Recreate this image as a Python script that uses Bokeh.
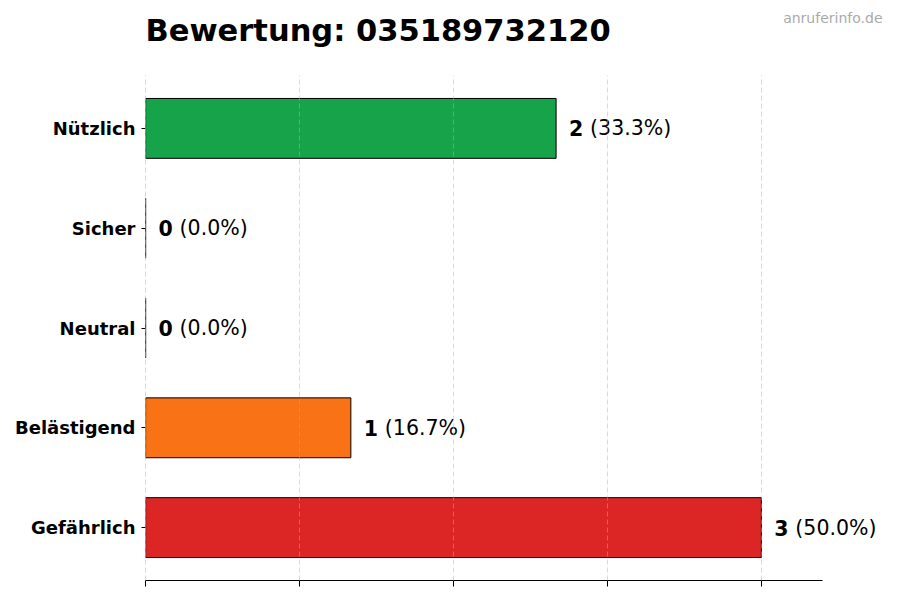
from bokeh.plotting import figure
from bokeh.layouts import column
from bokeh.models import ColumnDataSource, FixedTicker, Range1d
from bokeh.core.properties import value
from bokeh.embed import file_html
from bokeh.resources import INLINE

categories = ["Nützlich", "Sicher", "Neutral", "Belästigend", "Gefährlich"]
counts = [2, 0, 0, 1, 3]
colors = ["#16a34a", "#9ca3af", "#6b7280", "#f97316", "#dc2626"]
x_ticks = [0, 0.75, 1.5, 2.25, 3.0]
title_text = "Bewertung: 035189732120"
watermark = "anruferinfo.de"

total = sum(counts)
ypos = [len(categories) - 1 - i for i in range(len(categories))]
pct = ["(%.1f%%)" % (c / total * 100) for c in counts]

FONT = "DejaVu Sans"
W = 884
HEAD_H = 75
LEFT = 145

# ---- header (title + watermark), pixel-space frame aligned with the chart frame ----
head = figure(width=W, height=HEAD_H, output_backend="svg", toolbar_location=None,
              x_range=Range1d(LEFT, W), y_range=Range1d(HEAD_H, 0),
              x_axis_type=None, y_axis_type=None, min_border=0, min_border_left=LEFT)
head.outline_line_color = None
head.grid.visible = False
head.text(x=[LEFT], y=[30], text=[title_text], text_font=value(FONT),
          text_font_style="bold", text_font_size="30.5px", text_color="black",
          text_baseline="middle", text_align="left")
head.text(x=[882], y=[17], text=[watermark], text_font=value(FONT),
          text_font_size="14px", text_color="#aaaaaa",
          text_baseline="middle", text_align="right")

# ---- main chart ----
src = ColumnDataSource(dict(y=ypos, v=counts, c=colors, n=[str(c) for c in counts], p=pct))

p = figure(width=W, height=512, output_backend="svg", toolbar_location=None,
           x_range=Range1d(-0.0005, 3.6), y_range=Range1d(-0.53, 4.53),
           min_border_left=LEFT, min_border_right=0, min_border_top=0, min_border_bottom=7)
p.outline_line_color = None
p.background_fill_color = "white"

p.hbar(y="y", left=0, right="v", height=0.6, fill_color="c", line_color="black",
       line_width=1, source=src)

p.text(x="v", y="y", text="n", x_offset=13, text_baseline="middle", text_align="left",
       text_font=value(FONT), text_font_style="bold", text_font_size="20.5px",
       text_color="black", source=src)
p.text(x="v", y="y", text="p", x_offset=34, text_baseline="middle", text_align="left",
       text_font=value(FONT), text_font_size="20.5px", text_color="black", source=src)

# x axis
p.xaxis.ticker = FixedTicker(ticks=x_ticks)
p.xaxis.bounds = (0, 3.3)
p.xaxis.major_label_text_font_size = "0px"
p.xaxis.major_label_standoff = 0
p.xaxis.major_tick_out = 6
p.xaxis.major_tick_in = 0
p.xaxis.minor_tick_line_color = None
p.xaxis.axis_line_color = "black"
p.xaxis.major_tick_line_color = "black"

# y axis
p.yaxis.ticker = FixedTicker(ticks=ypos)
p.yaxis.major_label_overrides = {y: c for y, c in zip(ypos, categories)}
p.yaxis.major_label_text_font = FONT
p.yaxis.major_label_text_font_style = "bold"
p.yaxis.major_label_text_font_size = "18px"
p.yaxis.major_label_text_color = "black"
p.yaxis.major_label_standoff = 6
p.yaxis.axis_line_color = None
p.yaxis.major_tick_out = 4
p.yaxis.major_tick_in = 0
p.yaxis.minor_tick_line_color = None

# grid
p.ygrid.grid_line_color = None
p.xgrid.ticker = FixedTicker(ticks=x_ticks)
p.xgrid.grid_line_color = "#b0b0b0"
p.xgrid.grid_line_alpha = 0.6
p.xgrid.grid_line_dash = "5 3"
p.xgrid.grid_line_width = 0.8
p.xgrid.level = "overlay"

layout = column(head, p, spacing=0)
open("out.html", "w").write(file_html(layout, INLINE))
